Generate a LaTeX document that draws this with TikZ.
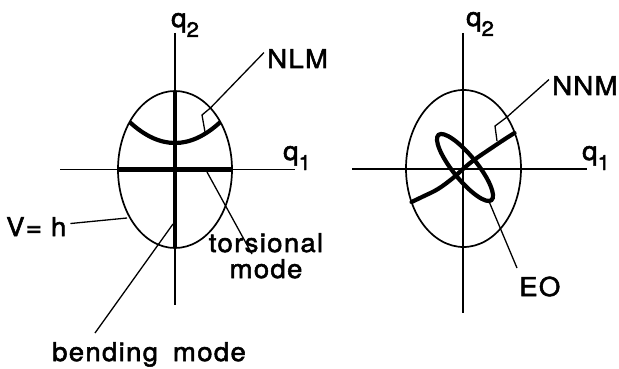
\documentclass[tikz,border=0pt]{standalone}
\usepackage{fontspec}
\newfontfamily\lbl[FakeStretch=1.06,LetterSpace=5,FakeBold=2]{TeX Gyre Heros}
\tikzset{
  axis/.style={line width=1.5pt},
  egg/.style={line width=1.7pt},
  modeline/.style={line width=4.2pt},
  leader/.style={line width=1.3pt, line join=miter},
  lab/.style={inner sep=0pt, font=\lbl\fontsize{26}{30}\selectfont},
}
\newcommand{\qsub}[1]{q\raisebox{-10pt}{\fontsize{21}{21}\selectfont #1}}
\begin{document}
\begin{tikzpicture}[x=1pt,y=-1pt]
\useasboundingbox (0,0) rectangle (619,369);
% ---------- left figure ----------
\coordinate (L) at (175,169.5);
\draw[axis] (175,33) -- (175,305);
\draw[axis] (60,169.5) -- (295,169.5);
\draw[egg] (L) ellipse [x radius=57, y radius=78.5];
\draw[modeline] (175,91) -- (175,248);
\draw[modeline] (118,169.5) -- (232,169.5);
\draw[modeline] (129.6,122) .. controls (160,150) and (190,150) .. (220.4,122);
\node[lab, anchor=base west] (q2L) at (171,27) {\qsub{2}};
\node[lab, anchor=base west] (q1L) at (283,160) {\qsub{1}};
\node[lab, anchor=base west] (nlm) at (267,68) {NLM};
\node[lab, anchor=base west] (vh) at (6,236) {V= h};
\node[lab, anchor=base, align=center] (tor) at (266,278) {torsional\\[-4pt]mode};
\node[lab, anchor=base west] (bend) at (52,361) {bending\hspace{6pt} mode};
\coordinate (nlmE) at (210.4,108);
\coordinate (nlmC) at (202,115);
\coordinate (nlmF) at (205,132);
\draw[leader] (nlm.west) ++(-3,-6) -- (nlmE) -- (nlmC) -- (nlmF);
\coordinate (vhE) at (127,218);
\draw[leader] (vh.east) ++(4,-3) -- (vhE);
\coordinate (torS) at (207,172);
\draw[leader] (torS) -- (252,254);
\coordinate (bendS) at (173,224);
\draw[leader] (bendS) -- (95,333);
% ---------- right figure ----------
\coordinate (R) at (463.5,168.5);
\draw[axis] (463,33) -- (463,313);
\draw[axis] (352,169) -- (587,169);
\draw[egg] (R) ellipse [x radius=57.5, y radius=78.5];
\draw[modeline, line cap=round] plot[smooth, tension=0.6] coordinates {(411.5,202) (422,197) (438,189) (453,178) (463,169) (474,160) (490,149) (505,139) (514.5,133)};
\draw[modeline, rotate around={-51:(465,167.5)}] (465,167.5) ellipse [x radius=42, y radius=12];
\node[lab, anchor=base west] (q2R) at (466,26) {\qsub{2}};
\node[lab, anchor=base west] (q1R) at (582,160) {\qsub{1}};
\node[lab, anchor=base west] (nnm) at (552,95) {NNM};
\node[lab, anchor=base west] (eo) at (519,296) {EO};
\coordinate (nnmE) at (507,117);
\coordinate (nnmC) at (495,126);
\coordinate (nnmF) at (497,141);
\draw[leader] (nnm.west) ++(-3,-6) -- (nnmE) -- (nnmC) -- (nnmF);
\coordinate (eoS) at (488,199);
\draw[leader] (eoS) -- (517,268);
\end{tikzpicture}
\end{document}
